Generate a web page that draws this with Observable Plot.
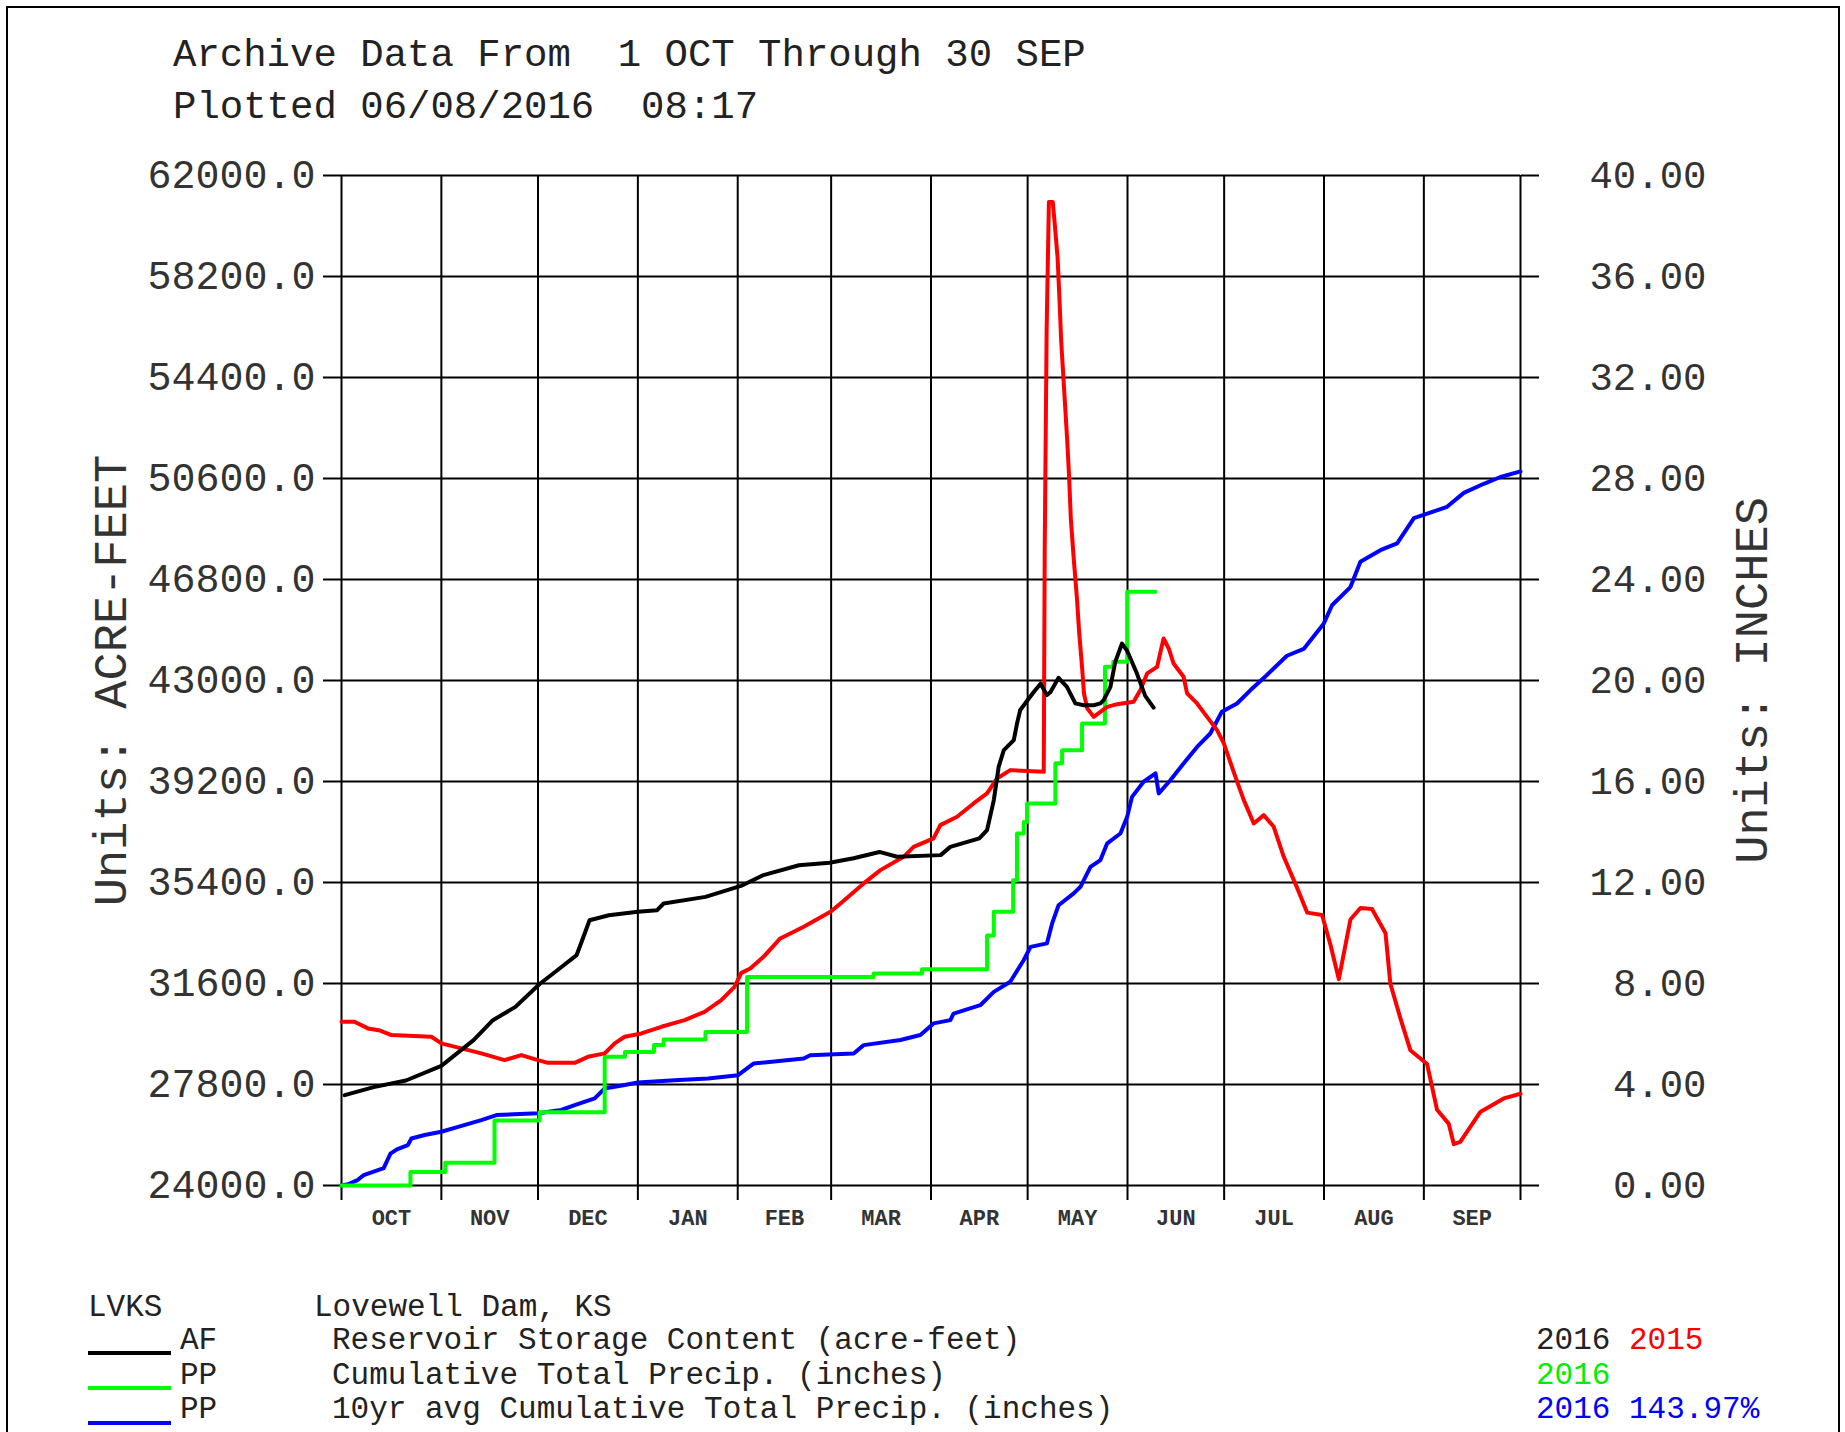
<!DOCTYPE html>
<html>
<head>
<meta charset="utf-8">
<script src="https://cdn.jsdelivr.net/npm/d3@7"></script>
<script src="https://cdn.jsdelivr.net/npm/@observablehq/plot@0.6"></script>
<style>
  html, body { margin: 0; padding: 0; background: #fff; }
  #wrap { position: relative; width: 1845px; height: 1432px; overflow: hidden; background: #fff;
          font-family: "Liberation Mono", "DejaVu Sans Mono", monospace; color: #222; }
  .abs { position: absolute; white-space: pre; line-height: 1; }
  .title { font-size: 39px; left: 173px; }
  .leg { font-size: 31px; }
  .sw { position: absolute; left: 88px; width: 83px; height: 4px; }
  #border { position: absolute; left: 6px; top: 6px; width: 1830px; height: 1500px;
            border: 2px solid #000; border-bottom: none; }
  #chart { position: absolute; left: 0; top: 0; }
</style>
</head>
<body>
<div id="wrap">
  <div id="border"></div>
  <div id="chart"></div>
  <div class="abs title" style="top:37px">Archive Data From  1 OCT Through 30 SEP</div>
  <div class="abs title" style="top:89px">Plotted 06/08/2016  08:17</div>

  <div class="abs leg" style="left:88px;top:1292px">LVKS</div>
  <div class="abs leg" style="left:314px;top:1292px">Lovewell Dam, KS</div>

  <div class="sw" style="top:1351px;background:#000"></div>
  <div class="abs leg" style="left:180px;top:1325px">AF</div>
  <div class="abs leg" style="left:332px;top:1325px">Reservoir Storage Content (acre-feet)</div>
  <div class="abs leg" style="left:1536px;top:1325px">2016 <span style="color:#ff0000">2015</span></div>

  <div class="sw" style="top:1386px;background:#00ff00"></div>
  <div class="abs leg" style="left:180px;top:1360px">PP</div>
  <div class="abs leg" style="left:332px;top:1360px">Cumulative Total Precip. (inches)</div>
  <div class="abs leg" style="left:1536px;top:1360px;color:#00ee00">2016</div>

  <div class="sw" style="top:1421px;background:#0000ff"></div>
  <div class="abs leg" style="left:180px;top:1394px">PP</div>
  <div class="abs leg" style="left:332px;top:1394px">10yr avg Cumulative Total Precip. (inches)</div>
  <div class="abs leg" style="left:1536px;top:1394px;color:#0000ff">2016 143.97%</div>
</div>
<script>
// ---- data (x = day of water year from 1 OCT) ----
const monthLabels = ["OCT","NOV","DEC","JAN","FEB","MAR","APR","MAY","JUN","JUL","AUG","SEP"];
const afTicks = [24000, 27800, 31600, 35400, 39200, 43000, 46800, 50600, 54400, 58200, 62000];

// Reservoir storage 2016 (acre-feet), black
const storageDay = [1, 10, 20, 31, 41, 47, 54, 61.5, 67, 73, 75.5, 77, 83, 92, 98, 100, 113, 124, 131, 142, 151.5, 159, 167, 172.5, 186, 189, 198, 200.4, 202.5, 204, 205.6, 208.7, 209.7, 210.7, 214.9, 217, 219, 220.1, 222.6, 225.2, 227.8, 230.4, 233.5, 235.6, 236.6, 238.7, 240.2, 242.3, 243.8, 246.9, 249.5, 252.1];
const storageAF = [27400, 27700, 27950, 28500, 29470, 30220, 30720, 31580, 32100, 32670, 33480, 33980, 34170, 34300, 34360, 34610, 34860, 35270, 35680, 36050, 36140, 36310, 36550, 36370, 36430, 36740, 37060, 37370, 38500, 39750, 40380, 40760, 41380, 41890, 42570, 42880, 42450, 42570, 43100, 42760, 42140, 42070, 42070, 42140, 42260, 42760, 43700, 44390, 44140, 43270, 42420, 41980];

// Reservoir storage 2015 (acre-feet), red
const lastYearDay = [0, 4, 8.2, 12, 15.5, 27.9, 31, 37.2, 43.4, 50.6, 55.8, 61, 64.1, 72.4, 76.5, 81.7, 84.8, 87.9, 93.1, 99.3, 106.5, 112.7, 117.9, 122, 124.1, 126.9, 131, 136.2, 143.5, 151.8, 154.9, 162.1, 167.3, 174.5, 177.6, 183.8, 185.9, 191.1, 196.2, 200.4, 203.5, 207.6, 218, 218.3, 218.9, 219.6, 220.8, 221.4, 222.3, 222.9, 223.4, 224.3, 225.3, 225.9, 226.4, 227.3, 228.3, 229, 229.9, 230.5, 231.5, 233.5, 235.6, 237.7, 240.8, 245.9, 248, 250.1, 253.2, 255.2, 256.8, 258.3, 261.4, 262.5, 265.6, 268.7, 271.8, 273.9, 277.5, 280.1, 283.2, 286.3, 289.4, 292.5, 296.6, 299.8, 304.4, 307, 309.6, 313.2, 316.3, 319.9, 324.1, 325.6, 328.7, 331.8, 337, 340.1, 343.7, 345.3, 347.3, 353.5, 360.8, 366];
const lastYearAF = [30160, 30160, 29910, 29830, 29660, 29595, 29346, 29157, 28970, 28718, 28906, 28718, 28616, 28616, 28842, 28970, 29346, 29595, 29722, 29971, 30222, 30535, 30975, 31475, 32000, 32167, 32604, 33296, 33733, 34297, 34613, 35365, 35866, 36366, 36742, 37058, 37558, 37871, 38375, 38751, 39315, 39628, 39565, 47900, 56200, 61000, 61000, 60200, 58900, 57300, 55800, 54000, 52000, 50600, 49100, 47600, 46100, 44800, 43500, 42500, 41950, 41633, 41820, 42010, 42110, 42200, 42640, 43265, 43515, 44580, 44205, 43640, 43140, 42513, 42137, 41633, 41132, 40632, 39375, 38500, 37622, 37935, 37495, 36366, 35218, 34266, 34180, 33059, 31765, 34007, 34440, 34406, 33492, 31592, 30298, 29090, 28571, 26848, 26329, 25555, 25640, 26762, 27277, 27450];

// Cumulative total precip 2016 (inches), green, stepwise
const precipDay = [0, 21.4, 32.2, 47.5, 61.5, 81.7, 88, 97, 100, 113, 125.9, 165.2, 180.2, 200.4, 202.5, 208.5, 209.7, 211.8, 212.8, 221.6, 223.7, 229.9, 237, 239.6, 243.9, 252.7];
const precipIn = [0, 0.53, 0.9, 2.57, 2.9, 5.1, 5.29, 5.56, 5.78, 6.08, 8.26, 8.4, 8.56, 9.9, 10.84, 12.09, 13.94, 14.4, 15.13, 16.72, 17.24, 18.3, 20.54, 20.74, 23.51, 23.51];

// 10yr avg cumulative total precip (inches), blue
const avgDay = [0, 2, 4.8, 6.9, 10, 13.1, 15.2, 17.2, 20.6, 21.7, 25.8, 31, 36.2, 43.4, 48.1, 61, 68.2, 72.4, 78.6, 81.7, 87.9, 92, 103.4, 113.8, 123.1, 127.9, 143.5, 145.5, 159, 162.1, 173.5, 179.7, 183.8, 189, 190, 198.3, 202.5, 207.6, 211.8, 213.9, 219, 220.6, 222.6, 227.3, 229.4, 232.5, 235.6, 237.7, 241.8, 243.9, 245.4, 249, 252.7, 253.7, 257.3, 261.4, 265.6, 269.7, 273.3, 278, 282.2, 286.8, 293.5, 298.7, 304.9, 307.5, 313.2, 316.3, 322.5, 327.7, 332.9, 339.1, 343.2, 348.4, 354.6, 359.8, 366];
const avgIn = [0, 0.05, 0.2, 0.41, 0.55, 0.69, 1.26, 1.43, 1.6, 1.86, 2, 2.13, 2.32, 2.59, 2.79, 2.86, 2.99, 3.18, 3.45, 3.84, 3.98, 4.08, 4.17, 4.24, 4.37, 4.83, 5.03, 5.16, 5.23, 5.56, 5.76, 5.96, 6.42, 6.55, 6.81, 7.14, 7.67, 8.07, 8.93, 9.45, 9.59, 10.38, 11.1, 11.57, 11.83, 12.62, 12.89, 13.55, 13.94, 14.6, 15.39, 15.99, 16.32, 15.53, 16.05, 16.71, 17.37, 17.9, 18.76, 19.09, 19.62, 20.16, 20.98, 21.25, 22.25, 22.98, 23.7, 24.7, 25.16, 25.43, 26.43, 26.7, 26.88, 27.43, 27.79, 28.06, 28.28];

// ---- build ----
const t0 = Date.UTC(2015, 9, 1);
const start = new Date(t0);
const end = new Date(Date.UTC(2016, 9, 1));
const toDate = d => new Date(t0 + d * 864e5);
const inToAF = v => 24000 + v * (62000 - 24000) / 40;   // right axis 0..40 in
const afToIn = v => (v - 24000) * 40 / (62000 - 24000);

const monthStarts = d3.utcMonths(start, new Date(Date.UTC(2016, 9, 2)));
const monthMids = d3.utcMonths(start, end).map(m => new Date((+m + +d3.utcMonth.offset(m, 1)) / 2));
const fmtMonth = d => monthLabels[(d.getUTCMonth() + 3) % 12];

const storage = storageDay.map((d, i) => ({date: toDate(d), v: storageAF[i]}));
const lastYear = lastYearDay.map((d, i) => ({date: toDate(d), v: lastYearAF[i]}));
const precip = precipDay.map((d, i) => ({date: toDate(d), v: inToAF(precipIn[i])}));
const avg = avgDay.map((d, i) => ({date: toDate(d), v: inToAF(avgIn[i])}));

const chart = Plot.plot({
  width: 1845,
  height: 1245,
  marginLeft: 341,
  marginRight: 325,
  marginTop: 175,
  marginBottom: 60,
  style: {fontFamily: "'Liberation Mono', 'DejaVu Sans Mono', monospace", background: "transparent", color: "#000", overflow: "visible"},
  x: {type: "utc", domain: [start, end]},
  y: {domain: [24000, 62000]},
  marks: [
    Plot.ruleY(afTicks, {stroke: "#000", strokeWidth: 2}),
    Plot.ruleX(monthStarts, {stroke: "#000", strokeWidth: 2}),
    Plot.axisY(afTicks, {anchor: "left", tickSize: 18, tickPadding: 8, strokeWidth: 2,
      tickFormat: d => d.toFixed(1), fontSize: 40, fill: "#333", label: null}),
    Plot.axisY(afTicks, {anchor: "right", tickSize: 18, tickPadding: 168, textAnchor: "end", strokeWidth: 2,
      tickFormat: d => afToIn(d).toFixed(2), fontSize: 39, fill: "#333", label: null}),
    Plot.axisX(monthStarts, {anchor: "bottom", tickSize: 15, strokeWidth: 2, tickFormat: () => "", label: null}),
    Plot.axisX(monthMids, {anchor: "bottom", tickSize: 0, tickPadding: 24, tickFormat: fmtMonth,
      fontSize: 22, fontWeight: "bold", fill: "#333", label: null}),
    Plot.line(avg, {x: "date", y: "v", stroke: "#0000ff", strokeWidth: 4}),
    Plot.line(precip, {x: "date", y: "v", stroke: "#00ff00", strokeWidth: 4, curve: "step-after"}),
    Plot.line(lastYear, {x: "date", y: "v", stroke: "#ff0000", strokeWidth: 4}),
    Plot.line(storage, {x: "date", y: "v", stroke: "#000000", strokeWidth: 4}),
    Plot.text(["Units: ACRE-FEET"], {frameAnchor: "left", textAnchor: "middle", rotate: -90, dx: -231, fontSize: 47, fill: "#333"}),
    Plot.text(["Units: INCHES"], {frameAnchor: "right", textAnchor: "middle", rotate: -90, dx: 231, fontSize: 47, fill: "#333"})
  ]
});
document.getElementById("chart").appendChild(chart);
</script>
</body>
</html>
